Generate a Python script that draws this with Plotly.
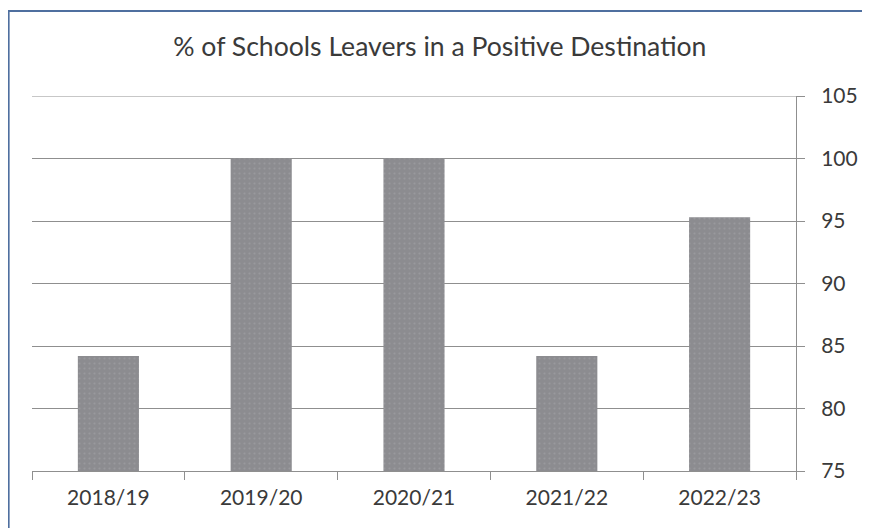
import plotly.graph_objects as go

categories = ["2018/19", "2019/20", "2020/21", "2021/22", "2022/23"]
values = [84.2, 100.0, 100.0, 84.2, 95.3]
y_ticks = [75, 80, 85, 90, 95, 100, 105]
title_text = "% of Schools Leavers in a Positive Destination"

# page has an 8px body margin; figure coordinates are page - 8
OFF = 8
W, H = 870 - OFF, 528 - OFF
L, R, T, B = 32 - OFF, W - (800 - OFF), 96 - OFF, H - (471 - OFF)
pw, ph = W - L - R, H - T - B
Y0, Y1 = y_ticks[0], y_ticks[-1]

def px_x(x):
    return (x - OFF - L) / pw

def px_y(y):
    return 1 - (y - OFF - T) / ph

fig = go.Figure(go.Bar(
    x=categories, y=values,
    marker=dict(color="#8c8c90", line=dict(width=0),
                pattern=dict(shape=".", fgcolor="#a6a6aa", bgcolor="#8c8c90", size=5, solidity=0.15)),
    width=0.4,
))

gray = "#8f8f8f"
fig.update_layout(
    width=W, height=H,
    margin=dict(l=L, r=R, t=T, b=B),
    paper_bgcolor="white", plot_bgcolor="white",
    font=dict(family="Lato, Calibri, sans-serif", color="#3a3a3a", size=21),
    title=dict(text=title_text, x=px_x(442), xanchor="center", xref="paper",
               y=1 - (47 - OFF) / H, yanchor="middle",
               font=dict(size=26.6, color="#3a3a3a")),
    showlegend=False,
    xaxis=dict(showline=True, linecolor=gray, linewidth=1, ticks="outside", tickson="boundaries",
               ticklen=8, tickcolor=gray, showgrid=False, fixedrange=True, ticklabelstandoff=8),
    yaxis=dict(side="right", range=[Y0, Y1], tickvals=y_ticks, showline=True, linecolor=gray,
               linewidth=1, ticks="outside", ticklen=8, tickcolor=gray, showgrid=True,
               gridcolor=gray, gridwidth=1, zeroline=False, ticklabelstandoff=12),
    shapes=[
        dict(type="line", xref="paper", yref="y", x0=0, x1=1, y0=Y1, y1=Y1,
             line=dict(color=gray, width=1), layer="below"),
        dict(type="path", xref="paper", yref="paper",
             path=f"M {px_x(8.5)},{px_y(540)} L {px_x(8.5)},{px_y(11)} L {px_x(880)},{px_y(11)}",
             line=dict(color="#4f6f9f", width=2)),
    ],
)

fig.write_html("out.html")
